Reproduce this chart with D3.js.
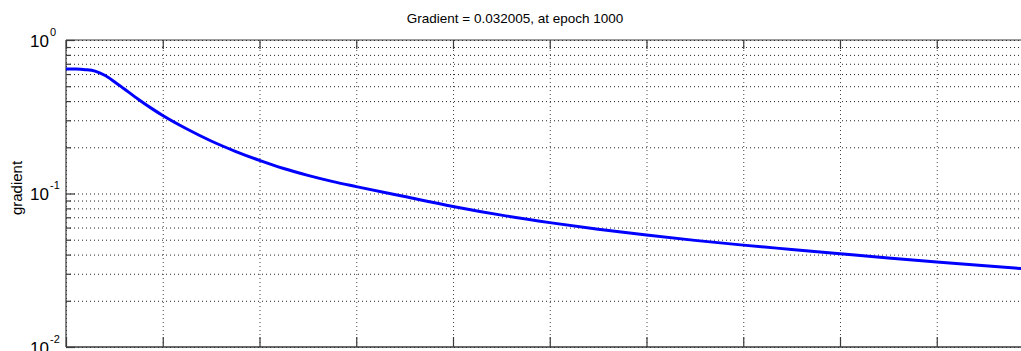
<!DOCTYPE html>
<html>
<head>
<meta charset="utf-8">
<script src="https://cdn.jsdelivr.net/npm/d3@7"></script>
<style>
  body { margin: 0; background: #fff; overflow: hidden; }
  svg { display: block; font-family: "Liberation Sans", Arial, sans-serif; }
</style>
</head>
<body>
<svg id="chart"></svg>
<script>
const width = 1021
const height = 351

// values
const epochs = [0, 10, 20, 30, 40, 50, 60, 75, 90, 100, 125, 150, 175, 200, 225, 250, 275, 300, 350, 400, 450, 500, 550, 600, 650, 700, 750, 800, 850, 900, 950, 1000]
const gradients = [0.647, 0.6463, 0.641, 0.627, 0.589, 0.535, 0.481, 0.410, 0.3532, 0.3221, 0.263, 0.2198, 0.1884, 0.1644, 0.1455, 0.1312, 0.1199, 0.1109, 0.0955, 0.0824, 0.0723, 0.0646, 0.0585, 0.0536, 0.0495, 0.0461, 0.0432, 0.0405, 0.038, 0.0358, 0.0338, 0.032005]
const xTicks = [0, 100, 200, 300, 400, 500, 600, 700, 800, 900, 1000]
const yMajor = [0.01, 0.1, 1]
const yMinor = [0.02, 0.03, 0.04, 0.05, 0.06, 0.07, 0.08, 0.09, 0.2, 0.3, 0.4, 0.5, 0.6, 0.7, 0.8, 0.9]
const titleText = 'Gradient = 0.032005, at epoch 1000'
const yLabel = 'gradient'

const margin = {top: 40, left: 66, bottom: 4}
const plotRight = 1033.5
const plotBottom = height - margin.bottom

const x = d3.scaleLinear().domain([0, 1000]).range([margin.left, plotRight])
const y = d3.scaleLog().domain([0.01, 1]).range([plotBottom, margin.top])

const svg = d3.select('#chart')
    .attr('width', width)
    .attr('height', height)

svg.append('rect')
    .attr('x', 0).attr('y', 0)
    .attr('width', width).attr('height', height)
    .attr('fill', '#fff')

// dotted grid
const plotW = plotRight - margin.left
const plotH = plotBottom - margin.top

const yGrid = svg.append('g')
    .attr('transform', `translate(${margin.left},0)`)
    .call(d3.axisLeft(y).tickValues(yMajor.concat(yMinor)).tickSize(-plotW).tickFormat(''))
yGrid.select('.domain').remove()
yGrid.selectAll('line')
    .attr('stroke', '#222')
    .attr('stroke-width', 1)
    .attr('stroke-dasharray', '1,3')

const xGrid = svg.append('g')
    .attr('transform', `translate(0,${plotBottom})`)
    .call(d3.axisBottom(x).tickValues(xTicks).tickSize(-plotH).tickFormat(''))
xGrid.select('.domain').remove()
xGrid.selectAll('line')
    .attr('stroke', '#444')
    .attr('stroke-width', 1)
    .attr('stroke-dasharray', '1,3')

// frame
const axisColor = '#3a3a3a'
svg.append('line')
    .attr('x1', margin.left).attr('x2', plotRight)
    .attr('y1', margin.top).attr('y2', margin.top)
    .attr('stroke', axisColor).attr('stroke-width', 1.2)
svg.append('line')
    .attr('x1', margin.left).attr('x2', plotRight)
    .attr('y1', plotBottom).attr('y2', plotBottom)
    .attr('stroke', axisColor).attr('stroke-width', 1.5)
svg.append('line')
    .attr('x1', margin.left).attr('x2', margin.left)
    .attr('y1', margin.top).attr('y2', plotBottom)
    .attr('stroke', axisColor).attr('stroke-width', 1.2)

// inward tick marks
function styleTicks(g) {
    g.select('.domain').remove()
    g.selectAll('line').attr('stroke', axisColor).attr('stroke-width', 1.2)
}
svg.append('g')
    .attr('transform', `translate(${margin.left},0)`)
    .call(d3.axisRight(y).tickValues(yMajor).tickSize(9).tickFormat(''))
    .call(styleTicks)
svg.append('g')
    .attr('transform', `translate(${margin.left},0)`)
    .call(d3.axisRight(y).tickValues(yMinor).tickSize(5).tickFormat(''))
    .call(styleTicks)
svg.append('g')
    .attr('transform', `translate(0,${plotBottom})`)
    .call(d3.axisTop(x).tickValues(xTicks).tickSize(10).tickFormat(''))
    .call(styleTicks)
svg.append('g')
    .attr('transform', `translate(0,${margin.top})`)
    .call(d3.axisBottom(x).tickValues(xTicks).tickSize(9).tickFormat(''))
    .call(styleTicks)

// y labels as 10^n
const yLabels = svg.append('g')
yMajor.forEach(v => {
    const yy = y(v)
    const exp = Math.round(Math.log10(v))
    yLabels.append('text')
        .attr('x', 49)
        .attr('y', yy + 6.5)
        .attr('text-anchor', 'end')
        .attr('font-size', 17)
        .attr('fill', '#000')
        .text('10')
    yLabels.append('text')
        .attr('x', 50)
        .attr('y', yy - 4.5)
        .attr('text-anchor', 'start')
        .attr('font-size', 11)
        .attr('fill', '#000')
        .text(exp === 0 ? '0' : '-' + Math.abs(exp))
})

// line
const line = d3.line()
    .x((d, i) => x(epochs[i]))
    .y(d => y(d))
    .curve(d3.curveMonotoneX)

svg.append('path')
    .datum(gradients)
    .attr('fill', 'none')
    .attr('stroke', '#0000ff')
    .attr('stroke-width', 3)
    .attr('stroke-linejoin', 'round')
    .attr('d', line)

// title and axis label
svg.append('text')
    .attr('x', 515)
    .attr('y', 23)
    .attr('text-anchor', 'middle')
    .attr('font-size', 13.5)
    .attr('fill', '#000')
    .text(titleText)

svg.append('text')
    .attr('transform', `translate(22,188) rotate(-90)`)
    .attr('text-anchor', 'middle')
    .attr('font-size', 15)
    .attr('fill', '#000')
    .text(yLabel)
</script>
</body>
</html>
